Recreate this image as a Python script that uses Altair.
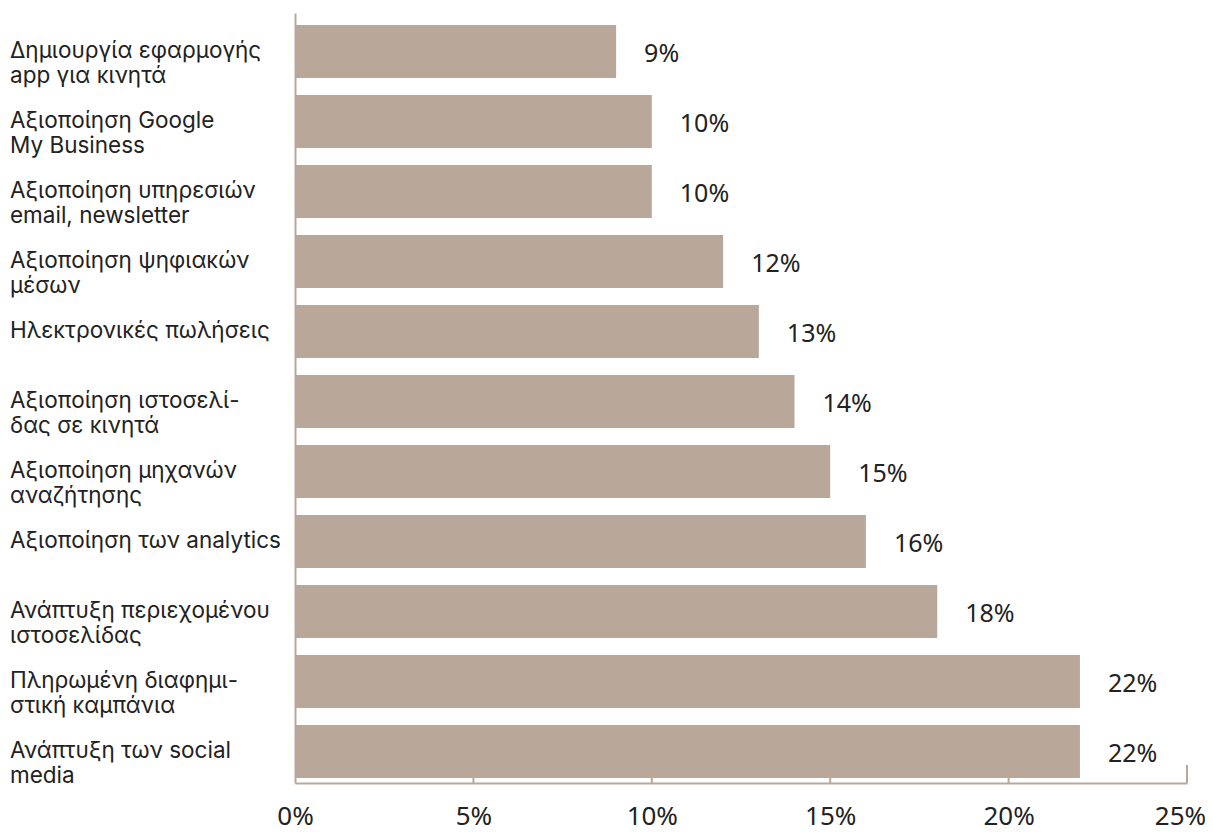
import altair as alt
import pandas as pd

categories = [
    "Δημιουργία εφαρμογής\napp για κινητά",
    "Αξιοποίηση Google\nMy Business",
    "Αξιοποίηση υπηρεσιών\nemail, newsletter",
    "Αξιοποίηση ψηφιακών\nμέσων",
    "Ηλεκτρονικές πωλήσεις",
    "Αξιοποίηση ιστοσελί-\nδας σε κινητά",
    "Αξιοποίηση μηχανών\nαναζήτησης",
    "Αξιοποίηση των analytics",
    "Ανάπτυξη περιεχομένου\nιστοσελίδας",
    "Πληρωμένη διαφημι-\nστική καμπάνια",
    "Ανάπτυξη των social\nmedia",
]
values = [9, 10, 10, 12, 13, 14, 15, 16, 18, 22, 22]
value_labels = ["9%", "10%", "10%", "12%", "13%", "14%", "15%", "16%", "18%", "22%", "22%"]
tick_values = [0, 5, 10, 15, 20, 25]
inner_ticks = [5, 10, 15, 20]
end_tick = [25]

df = pd.DataFrame({"cat": categories, "val": values, "label": value_labels})
ticks_df = pd.DataFrame({"t": inner_ticks})
end_df = pd.DataFrame({"t": end_tick})

W, H = 892, 770
FONT = "Noto Sans"
CAT_FONT = "Inter, Noto Sans"
BAR = "#b9a89a"
TXT = "#222222"

x_scale = alt.Scale(domain=[0, 25], nice=False, zero=True)
y_scale = alt.Scale(paddingInner=0.243, paddingOuter=0.1215, align=0.7)
y_enc = alt.Y("cat:N", sort=categories, scale=y_scale,
              axis=alt.Axis(labels=False, ticks=False, title=None,
                            domainColor=BAR, domainWidth=2, grid=False))

base = alt.Chart(df)

bars = base.mark_bar(color=BAR).encode(
    x=alt.X("val:Q", scale=x_scale,
            axis=alt.Axis(values=tick_values, labelExpr="datum.value + '%'",
                          ticks=False, tickSize=0, grid=False, title=None,
                          domainColor=BAR, domainWidth=2, labelFlush=False,
                          labelOffset={"condition": {"test": "datum.value == 25", "value": -7}, "value": 0},
                          labelFontSize=26, labelPadding=20, labelColor=TXT,
                          labelFont=FONT)),
    y=y_enc,
)

vals = base.mark_text(align="left", baseline="middle", dx=28, dy=3,
                      fontSize=25, color=TXT, font=FONT).encode(
    x=alt.X("val:Q", scale=x_scale), y=y_enc, text="label:N")

cats = base.mark_text(align="left", baseline="middle", lineBreak="\n",
                      fontSize=22.5, lineHeight=25, color=TXT, font=CAT_FONT).encode(
    x=alt.value(-285), y=y_enc, text="cat:N")

small_ticks = alt.Chart(ticks_df).mark_rule(color=BAR, strokeWidth=2).encode(
    x=alt.X("t:Q", scale=x_scale), y=alt.value(H - 6), y2=alt.value(H))
big_tick = alt.Chart(end_df).mark_rule(color=BAR, strokeWidth=2).encode(
    x=alt.X("t:Q", scale=x_scale), y=alt.value(H - 18), y2=alt.value(H))

chart = alt.layer(bars, vals, cats, small_ticks, big_tick).properties(
    width=W, height=H,
    autosize=alt.AutoSizeParams(type="none"),
    padding={"left": 287, "top": 5, "right": 18, "bottom": 50},
).configure_view(stroke=None)

chart.save("out.html", embed_options={"renderer": "svg", "actions": False})
